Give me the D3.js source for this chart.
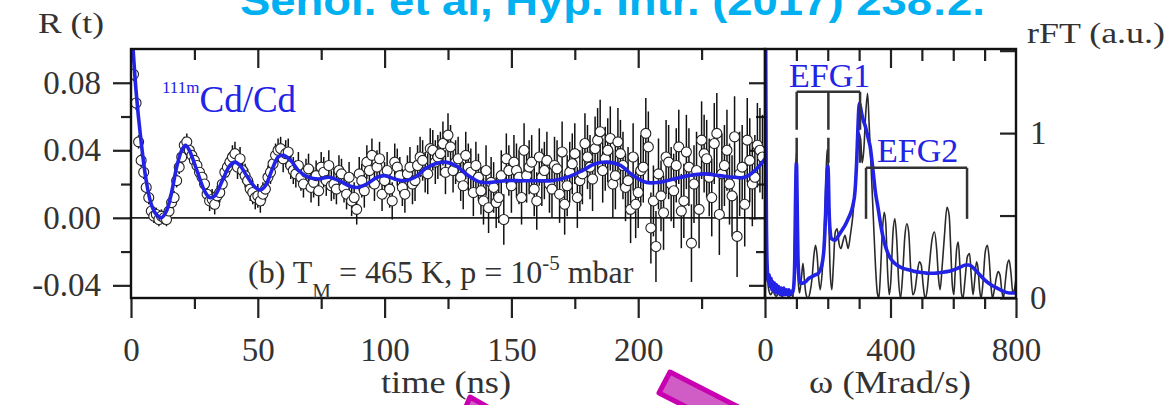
<!DOCTYPE html>
<html>
<head>
<meta charset="utf-8">
<script src="https://cdn.jsdelivr.net/npm/d3@7"></script>
<style>
  html, body { margin: 0; padding: 0; background: #fff; }
  svg { display: block; }
  text { font-family: "Liberation Serif", "Times New Roman", serif; fill: #333; }
</style>
</head>
<body>
<div id="chart"></div>
<script>
// time domain R(t)
const timeTicks = [0, 50, 100, 150, 200];
const timeMinorTicks = [25, 75, 125, 175, 225];
const rTicks = [-0.04, 0, 0.04, 0.08];
const rMinorTicks = [-0.02, 0.02, 0.06];

// one point per ns, t = 1 ... 249
const sampleTimes = d3.range(1, 250, 1);
const rValues = [
    0.085, 0.068, 0.045, 0.034, 0.027, 0.018, 0.012, 0.004, 0.001, 0.002,
    -0.001, 0.001, 0.000, -0.001, 0.004, 0.009, 0.012, 0.022, 0.030, 0.036,
    0.043, 0.045, 0.040, 0.037, 0.034, 0.031, 0.027, 0.024, 0.020, 0.014,
    0.010, 0.011, 0.008, 0.013, 0.015, 0.020, 0.027, 0.030, 0.033, 0.036,
    0.038, 0.030, 0.035, 0.028, 0.025, 0.022, 0.017, 0.015, 0.012, 0.013,
    0.010, 0.014, 0.017, 0.024, 0.027, 0.032, 0.037, 0.040, 0.041, 0.035,
    0.038, 0.039, 0.031, 0.028, 0.026, 0.031, 0.024, 0.020, 0.027, 0.029,
    0.018, 0.021, 0.025, 0.016, 0.030, 0.027, 0.022, 0.031, 0.019, 0.020,
    0.017, 0.028, 0.026, 0.018, 0.014, 0.024, 0.010, 0.012, 0.005, 0.026,
    0.022, 0.016, 0.033, 0.028, 0.037, 0.020, 0.030, 0.035, 0.014, 0.022,
    0.028, 0.017, 0.010, 0.033, 0.030, 0.025, 0.018, 0.014, 0.026, 0.030,
    0.020, 0.022, 0.031, 0.036, 0.034, 0.027, 0.026, 0.041, 0.040, 0.033,
    0.036, 0.038, 0.044, 0.027, 0.049, 0.042, 0.028, 0.033, 0.035, 0.024,
    0.019, 0.037, 0.030, 0.027, 0.015, 0.031, 0.024, 0.016, 0.010, 0.028,
    0.006, 0.021, 0.018, 0.009, 0.012, 0.025, -0.001, 0.035, 0.028, 0.019,
    0.033, 0.028, 0.024, 0.012, 0.040, 0.025, 0.030, 0.033, 0.017, 0.010,
    0.036, 0.024, 0.028, 0.034, 0.020, 0.017, 0.031, 0.029, 0.014, 0.039,
    0.008, 0.019, 0.027, 0.032, 0.038, 0.012, 0.022, 0.026, 0.044, 0.036,
    0.030, 0.023, 0.041, 0.046, 0.051, 0.028, 0.035, 0.040, 0.047, 0.020,
    0.025, 0.045, 0.038, 0.031, 0.018, 0.022, 0.005, 0.036, 0.008, 0.015,
    0.028, 0.030, 0.050, 0.042, -0.006, 0.010, -0.017, 0.026, 0.013, 0.003,
    0.036, 0.033, 0.020, 0.016, 0.031, 0.042, 0.004, 0.010, 0.039, 0.030,
    -0.015, 0.020, 0.028, 0.005, 0.046, 0.038, 0.035, 0.024, 0.012, 0.044,
    0.050, 0.002, 0.026, 0.031, 0.040, 0.020, 0.013, 0.048, -0.011, 0.026,
    0.030, 0.008, 0.046, 0.034, 0.020, 0.024, 0.043, 0.040, 0.036
];
// error bar half-length, one value per 10 ns block (0-9, 10-19, ...)
const rErrorBlocks = [
    0.004, 0.004, 0.005, 0.006, 0.007, 0.007, 0.008, 0.009, 0.009, 0.010,
    0.011, 0.012, 0.013, 0.014, 0.015, 0.016, 0.017, 0.018, 0.019, 0.020,
    0.021, 0.022, 0.023, 0.024, 0.025
];

// fitted R(t): [t (ns), R]
const fitCurve = [
    [0, 0.12], [2, 0.075], [4, 0.045], [6, 0.022], [8, 0.008], [10, 0.002], [12, 0.0],
    [14, 0.004], [16, 0.015], [18, 0.030], [20, 0.040], [21.5, 0.043], [23, 0.040],
    [26, 0.028], [29, 0.016], [31, 0.012], [33, 0.013], [36, 0.022], [39, 0.031],
    [41, 0.033], [43, 0.031], [46, 0.024], [49, 0.018], [51, 0.0165], [53, 0.019],
    [56, 0.030], [58, 0.036], [60, 0.037], [63, 0.034], [66, 0.028], [70, 0.024],
    [74, 0.023], [78, 0.024], [82, 0.022], [86, 0.019], [89, 0.018], [93, 0.020],
    [97, 0.024], [100, 0.025], [104, 0.023], [108, 0.022], [112, 0.024], [116, 0.029],
    [120, 0.032], [124, 0.033], [128, 0.031], [133, 0.025], [138, 0.021], [142, 0.021],
    [148, 0.022], [154, 0.022], [160, 0.022], [166, 0.022], [172, 0.024], [178, 0.028],
    [183, 0.032], [188, 0.033], [193, 0.031], [198, 0.025], [203, 0.021], [208, 0.021],
    [214, 0.023], [220, 0.025], [226, 0.026], [232, 0.025], [238, 0.024], [242, 0.024],
    [246, 0.028], [250, 0.035]
];

// frequency domain rFT
const freqTicks = [0, 400, 800];
const freqMinorTicks = [100, 200, 300, 500, 600, 700];
const ftTicks = [0, 0.5, 1, 1.5];
const ftLabels = [0, 1];

// [omega (Mrad/s), rFT] of the data
const dataFt = [
    [0, 3.0], [2, 1.8], [4, 0.7], [6, 0.3], [9, 0.1], [12, 0.05], [18, 0.02], [25, 0.04],
    [35, 0.01], [45, 0.03], [55, 0.01], [65, 0.03], [75, 0.01], [85, 0.02], [90, 0.0],
    [94, 0.3], [97, 0.7], [100, 0.88], [103, 0.5], [106, 0.1], [110, 0.03], [116, 0.12],
    [121, 0.21], [126, 0.1], [131, 0.02], [137, 0.0], [143, 0.03], [150, 0.12], [156, 0.26],
    [161, 0.32], [166, 0.26], [171, 0.12], [176, 0.05], [182, 0.15], [188, 0.35], [194, 0.7],
    [198, 0.9], [201, 0.88], [204, 0.45], [208, 0.15], [213, 0.05], [218, 0.2], [224, 0.4],
    [230, 0.42], [236, 0.33], [242, 0.3], [248, 0.34], [255, 0.38], [260, 0.34], [265, 0.30],
    [272, 0.38], [280, 0.5], [288, 0.7], [295, 0.92], [300, 1.0], [305, 0.95], [310, 0.82],
    [315, 0.9], [321, 1.12], [327, 1.24], [332, 1.05], [338, 0.8], [345, 0.5], [352, 0.2],
    [358, 0.03], [363, 0.0], [368, 0.15], [374, 0.4], [380, 0.52], [385, 0.45], [391, 0.15],
    [396, 0.02], [401, 0.1], [408, 0.4], [414, 0.48], [420, 0.35], [426, 0.1], [432, 0.0],
    [438, 0.12], [446, 0.38], [452, 0.45], [458, 0.40], [465, 0.15], [471, 0.02], [478, 0.05],
    [485, 0.15], [492, 0.22], [498, 0.2], [504, 0.08], [510, 0.0], [517, 0.05], [524, 0.2],
    [532, 0.35], [540, 0.40], [547, 0.3], [553, 0.12], [558, 0.05], [565, 0.2], [572, 0.38],
    [580, 0.55], [587, 0.5], [592, 0.3], [597, 0.08], [602, 0.02], [606, 0.15], [611, 0.3],
    [616, 0.34], [621, 0.2], [626, 0.03], [631, 0.0], [637, 0.1], [645, 0.25], [652, 0.27],
    [658, 0.12], [663, 0.02], [668, 0.1], [674, 0.22], [679, 0.18], [684, 0.05], [689, 0.0],
    [695, 0.1], [702, 0.28], [709, 0.32], [714, 0.25], [720, 0.08], [725, 0.0], [731, 0.05],
    [737, 0.12], [743, 0.16], [749, 0.14], [755, 0.04], [760, 0.0], [766, 0.1], [772, 0.2],
    [778, 0.23], [784, 0.15], [790, 0.03], [795, 0.05], [800, 0.12]
];

// [omega, rFT] of the fit
const fitFt = [
    [0, 3.0], [2, 1.6], [4, 0.6], [6, 0.25], [8, 0.15], [10, 0.10], [13, 0.14], [16, 0.07],
    [19, 0.12], [22, 0.05], [25, 0.10], [28, 0.04], [31, 0.09], [34, 0.03], [37, 0.08],
    [40, 0.03], [44, 0.07], [48, 0.02], [52, 0.06], [56, 0.02], [60, 0.06], [64, 0.02],
    [68, 0.05], [72, 0.02], [76, 0.05], [80, 0.02], [84, 0.04], [88, 0.03], [92, 0.08],
    [95, 0.25], [97, 0.55], [99, 0.78], [100, 0.82], [101, 0.78], [103, 0.5], [105, 0.25],
    [108, 0.13], [112, 0.09], [120, 0.09], [130, 0.10], [140, 0.12], [150, 0.13], [160, 0.14],
    [170, 0.15], [180, 0.19], [188, 0.3], [193, 0.5], [196, 0.68], [198, 0.77], [200, 0.80],
    [202, 0.74], [204, 0.55], [207, 0.42], [212, 0.36], [223, 0.35], [235, 0.38], [245, 0.41],
    [255, 0.44], [265, 0.48], [272, 0.51], [280, 0.56], [287, 0.65], [292, 0.82], [296, 1.02],
    [299, 1.15], [301, 1.18], [304, 1.16], [308, 1.12], [313, 1.08], [320, 1.04], [330, 0.96],
    [335, 0.92], [345, 0.76], [352, 0.64], [360, 0.55], [370, 0.43], [380, 0.34], [390, 0.28],
    [400, 0.24], [420, 0.20], [440, 0.18], [460, 0.17], [480, 0.16], [500, 0.155], [520, 0.15],
    [540, 0.15], [560, 0.155], [580, 0.16], [600, 0.17], [620, 0.185], [640, 0.20], [650, 0.20],
    [660, 0.19], [680, 0.15], [700, 0.11], [720, 0.08], [740, 0.06], [760, 0.04], [780, 0.03],
    [800, 0.03]
];

// EFG frequency brackets (Mrad/s) and their heights in rFT units
const efg1 = [101, 202, 303];
const efg2 = [322, 644];
const efg1Level = 1.25, efg1Foot = 0.82;
const efg2Level = 0.79, efg2Foot = 0.48;

const W = 1176, H = 405;
const blue = '#2323e6';

const svg = d3.select('#chart')
    .append('svg')
    .attr('width', W)
    .attr('height', H);

svg.append('rect').attr('width', W).attr('height', H).attr('fill', '#fff');

// scales
const xT = d3.scaleLinear().domain([0, 250]).range([131, 765]);
const yR = d3.scaleLinear().domain([-0.0475, 0.1]).range([298, 49]);
const xW = d3.scaleLinear().domain([0, 800]).range([765, 1016]);
const yF = d3.scaleLinear().domain([0, 1.51]).range([298, 49]);

const defs = svg.append('defs');
defs.append('clipPath').attr('id', 'clipL').append('rect')
    .attr('x', 131).attr('y', 49).attr('width', 634).attr('height', 249);
defs.append('clipPath').attr('id', 'clipR').append('rect')
    .attr('x', 765).attr('y', 49).attr('width', 251).attr('height', 249);

// title (cut at the top of the picture)
svg.append('text')
    .attr('x', 240).attr('y', 15)
    .attr('textLength', 745)
    .attr('lengthAdjust', 'spacingAndGlyphs')
    .style('font-family', '"Liberation Sans", Arial, sans-serif')
    .style('font-weight', 'bold')
    .style('font-size', '40px')
    .style('fill', '#00b0f0')
    .text('Senol. et al, Hyp. Intr. (2017) 238:2.');

// axes helper
function drawAxis(gen, tx, ty) {
    const g = svg.append('g')
        .attr('transform', `translate(${tx}, ${ty})`)
        .call(gen);
    g.select('.domain').remove();
    g.selectAll('line').attr('stroke', '#222').attr('stroke-width', 2.2);
    g.selectAll('text')
        .attr('fill', '#333')
        .style('font-size', '33px')
        .style('font-family', '"Liberation Serif", serif');
    return g;
}

// left panel axes
drawAxis(d3.axisBottom(xT).tickValues(timeTicks).tickSize(20).tickPadding(20).tickFormat(d3.format('d')), 0, 298);
drawAxis(d3.axisBottom(xT).tickValues(timeMinorTicks).tickSize(11).tickFormat(''), 0, 298);
drawAxis(d3.axisTop(xT).tickValues(timeTicks.slice(1)).tickSize(-19).tickFormat(''), 0, 49);
drawAxis(d3.axisTop(xT).tickValues(timeMinorTicks).tickSize(-11).tickFormat(''), 0, 49);
drawAxis(d3.axisLeft(yR).tickValues(rTicks).tickSize(18).tickPadding(12).tickFormat((d) => d.toFixed(2)), 131, 0);
drawAxis(d3.axisLeft(yR).tickValues(rMinorTicks).tickSize(10).tickFormat(''), 131, 0);
drawAxis(d3.axisRight(yR).tickValues(rTicks).tickSize(-16).tickFormat(''), 765, 0);
drawAxis(d3.axisRight(yR).tickValues(rMinorTicks).tickSize(-9).tickFormat(''), 765, 0);

// right panel axes
drawAxis(d3.axisBottom(xW).tickValues(freqTicks).tickSize(20).tickPadding(20).tickFormat(d3.format('d')), 0, 298);
drawAxis(d3.axisBottom(xW).tickValues(freqMinorTicks).tickSize(11).tickFormat(''), 0, 298);
drawAxis(d3.axisTop(xW).tickValues(freqTicks.slice(1, 2)).tickSize(-19).tickFormat(''), 0, 49);
drawAxis(d3.axisTop(xW).tickValues(freqMinorTicks).tickSize(-12).tickFormat(''), 0, 49);
drawAxis(d3.axisRight(yF).tickValues(ftTicks).tickSize(-16).tickPadding(14)
    .tickFormat((d) => ftLabels.includes(d) ? d : ''), 1016, 0);

// zero line
svg.append('line')
    .attr('x1', xT(0)).attr('x2', xT(250))
    .attr('y1', yR(0)).attr('y2', yR(0))
    .attr('stroke', '#222').attr('stroke-width', 1.8);

// data points with error bars
const points = sampleTimes.map((t, i) => ({
    t, v: rValues[i], e: rErrorBlocks[Math.floor(t / 10)]
}));
const gL = svg.append('g').attr('clip-path', 'url(#clipL)');

gL.selectAll('line.err')
    .data(points)
    .enter()
    .append('line')
    .attr('class', 'err')
    .attr('x1', (d) => xT(d.t)).attr('x2', (d) => xT(d.t))
    .attr('y1', (d) => yR(d.v - d.e)).attr('y2', (d) => yR(d.v + d.e))
    .attr('stroke', '#111').attr('stroke-width', 1.5);

gL.selectAll('circle')
    .data(points)
    .enter()
    .append('circle')
    .attr('cx', (d) => xT(d.t))
    .attr('cy', (d) => yR(d.v))
    .attr('r', 5)
    .attr('fill', '#fff')
    .attr('stroke', '#222')
    .attr('stroke-width', 1.1);

const fitLine = d3.line()
    .x((d) => xT(d[0]))
    .y((d) => yR(d[1]))
    .curve(d3.curveCatmullRom.alpha(0.5));

gL.append('path')
    .datum(fitCurve)
    .attr('d', fitLine)
    .attr('fill', 'none')
    .attr('stroke', blue)
    .attr('stroke-width', 3.6);

// FT curves
const ftLine = d3.line()
    .x((d) => xW(d[0]))
    .y((d) => yF(d[1]))
    .curve(d3.curveMonotoneX);

const gR = svg.append('g').attr('clip-path', 'url(#clipR)');
gR.append('path')
    .datum(dataFt)
    .attr('d', ftLine)
    .attr('fill', 'none')
    .attr('stroke', '#2a2a2a')
    .attr('stroke-width', 1.6);
gR.append('path')
    .datum(fitFt)
    .attr('d', ftLine)
    .attr('fill', 'none')
    .attr('stroke', blue)
    .attr('stroke-width', 3.6);

// frames
svg.append('rect')
    .attr('x', 131).attr('y', 49).attr('width', 634).attr('height', 249)
    .attr('fill', 'none').attr('stroke', '#111').attr('stroke-width', 2.4);
svg.append('rect')
    .attr('x', 765).attr('y', 49).attr('width', 251).attr('height', 249)
    .attr('fill', 'none').attr('stroke', '#111').attr('stroke-width', 2.4);

// EFG brackets
const gB = svg.append('g').attr('stroke', '#333').attr('stroke-width', 2.5).attr('fill', 'none');
gB.append('line')
    .attr('x1', xW(efg1[0])).attr('x2', xW(efg1[2]))
    .attr('y1', yF(efg1Level)).attr('y2', yF(efg1Level));
gB.selectAll('line.e1')
    .data(efg1)
    .enter()
    .append('line')
    .attr('class', 'e1')
    .attr('x1', (d) => xW(d)).attr('x2', (d) => xW(d))
    .attr('y1', yF(efg1Level)).attr('y2', yF(efg1Foot))
    .attr('stroke-dasharray', '38,8');
gB.append('line')
    .attr('x1', xW(efg2[0])).attr('x2', xW(efg2[1]))
    .attr('y1', yF(efg2Level)).attr('y2', yF(efg2Level));
gB.selectAll('line.e2')
    .data(efg2)
    .enter()
    .append('line')
    .attr('class', 'e2')
    .attr('x1', (d) => xW(d)).attr('x2', (d) => xW(d))
    .attr('y1', yF(efg2Level)).attr('y2', yF(efg2Foot));

svg.append('text').attr('x', 789).attr('y', 87)
    .style('font-size', '34px').style('fill', blue).text('EFG1');
svg.append('text').attr('x', 877).attr('y', 162)
    .style('font-size', '34px').style('fill', blue).text('EFG2');

// labels
svg.append('text').attr('x', 38).attr('y', 33)
    .attr('textLength', 66).attr('lengthAdjust', 'spacingAndGlyphs')
    .style('font-size', '30px').text('R (t)');
svg.append('text').attr('x', 1027).attr('y', 43)
    .attr('textLength', 138).attr('lengthAdjust', 'spacingAndGlyphs')
    .style('font-size', '30px').text('rFT (a.u.)');

svg.append('text').attr('x', 446).attr('y', 393)
    .attr('text-anchor', 'middle')
    .attr('textLength', 130).attr('lengthAdjust', 'spacingAndGlyphs')
    .style('font-size', '31px').text('time (ns)');
svg.append('text').attr('x', 890).attr('y', 393)
    .attr('text-anchor', 'middle')
    .attr('textLength', 162).attr('lengthAdjust', 'spacingAndGlyphs')
    .style('font-size', '31px').text('ω (Mrad/s)');

const iso = svg.append('text').attr('x', 162).attr('y', 112).style('fill', blue);
iso.append('tspan').attr('dy', -19).style('font-size', '17px').text('111m');
iso.append('tspan').attr('dy', 19).style('font-size', '37px').text('Cd/Cd');

const cond = svg.append('text').attr('x', 248).attr('y', 283).style('font-size', '32px');
cond.append('tspan').text('(b) T');
cond.append('tspan').attr('dy', 15).style('font-size', '21px').text('M');
cond.append('tspan').attr('dy', -15).text(' = 465 K, p = 10');
cond.append('tspan').attr('dy', -13).style('font-size', '21px').text('-5');
cond.append('tspan').attr('dy', 13).text(' mbar');

// magenta arrows overlaid on the bottom edge
const gA = svg.append('g')
    .attr('fill', '#d05cc6').attr('stroke', '#c800b2').attr('stroke-width', 5)
    .attr('stroke-linejoin', 'round');
gA.append('polygon').attr('points', '470,397 500,414 462,416');
gA.append('polygon').attr('points', '670,372 848,463 837,484 659,393');
</script>
</body>
</html>
